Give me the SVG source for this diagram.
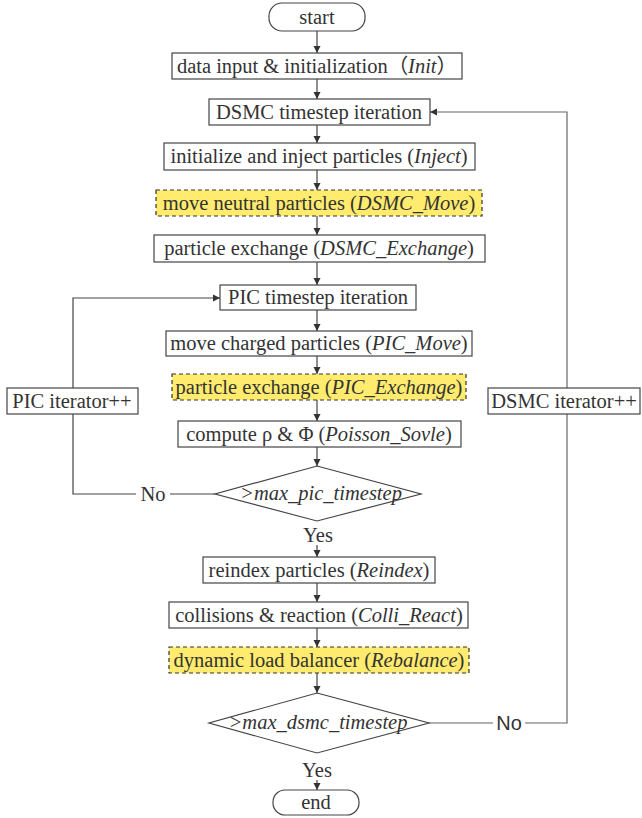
<svg xmlns="http://www.w3.org/2000/svg" width="642" height="818" viewBox="0 0 642 818">
<style>
.b{fill:#fff;stroke:#444;stroke-width:1.2}
.y{fill:#ffeb6e;stroke:#333;stroke-width:1.2;stroke-dasharray:4 3}
.t{font-family:"Liberation Serif","Noto Sans CJK SC",serif;font-size:20.5px;fill:#333;text-anchor:middle}
.s{font-family:"Liberation Sans",sans-serif;font-size:20px;fill:#333;text-anchor:middle}
.c{fill:none;stroke:#444;stroke-width:1.2}
.g{fill:none;stroke:#666;stroke-width:1.2}
</style>
<defs>
<marker id="a" markerWidth="8" markerHeight="8" refX="7" refY="4" orient="auto" markerUnits="userSpaceOnUse">
<path d="M0,0.5 L7,4 L0,7.5 Z" fill="#333"/>
</marker>
</defs>
<g id="connectors">
<path class="c" d="M317,31 V53" marker-end="url(#a)"/>
<path class="c" d="M317,79 V99" marker-end="url(#a)"/>
<path class="c" d="M317,125 V143" marker-end="url(#a)"/>
<path class="c" d="M317,170 V190" marker-end="url(#a)"/>
<path class="c" d="M317,216 V235" marker-end="url(#a)"/>
<path class="c" d="M317,262 V285" marker-end="url(#a)"/>
<path class="c" d="M317,310 V331" marker-end="url(#a)"/>
<path class="c" d="M317,356 V374" marker-end="url(#a)"/>
<path class="c" d="M317,400 V421" marker-end="url(#a)"/>
<path class="c" d="M317,447 V466" marker-end="url(#a)"/>
<path class="c" d="M317,545 V557" marker-end="url(#a)"/>
<path class="c" d="M317,583 V602" marker-end="url(#a)"/>
<path class="c" d="M317,628 V647" marker-end="url(#a)"/>
<path class="c" d="M317,673 V693" marker-end="url(#a)"/>
<path class="c" d="M317,780 V790" marker-end="url(#a)"/>
<path class="c" d="M215,494 H170 M136,494 H73 V298 H220" marker-end="url(#a)"/>
<path class="g" d="M429,723 H493 M525,723 H567 V112 H430" marker-end="url(#a)"/>
</g>
<g id="start"><rect class="b" x="269" y="3" width="96" height="28" rx="13"/><text class="t" x="317" y="24">start</text></g>
<g id="init"><rect class="b" x="172" y="53" width="290" height="26"/><text class="t" x="317" y="73" textLength="280" lengthAdjust="spacing">data input &amp; initialization（<tspan font-style="italic">Init</tspan>）</text></g>
<g id="dsmc_iter"><rect class="b" x="209" y="99" width="221" height="26"/><text class="t" x="319" y="119">DSMC timestep iteration</text></g>
<g id="inject"><rect class="b" x="164" y="143" width="311" height="27"/><text class="t" x="319" y="163">initialize and inject particles (<tspan font-style="italic">Inject</tspan>)</text></g>
<g id="dsmc_move"><rect class="y" x="156" y="190" width="326" height="26"/><text class="t" x="319" y="210">move neutral particles (<tspan font-style="italic">DSMC_Move</tspan>)</text></g>
<g id="dsmc_exchange"><rect class="b" x="154" y="235" width="331" height="27"/><text class="t" x="319" y="255">particle exchange (<tspan font-style="italic">DSMC_Exchange</tspan>)</text></g>
<g id="pic_iter"><rect class="b" x="220" y="285" width="196" height="25"/><text class="t" x="318" y="304">PIC timestep iteration</text></g>
<g id="pic_move"><rect class="b" x="166" y="331" width="306" height="25"/><text class="t" x="319" y="350">move charged particles (<tspan font-style="italic">PIC_Move</tspan>)</text></g>
<g id="pic_exchange"><rect class="y" x="172" y="374" width="294" height="26"/><text class="t" x="319" y="394">particle exchange (<tspan font-style="italic">PIC_Exchange</tspan>)</text></g>
<g id="poisson"><rect class="b" x="178" y="421" width="283" height="26"/><text class="t" x="319" y="441">compute ρ &amp; Φ (<tspan font-style="italic">Poisson_Sovle</tspan>)</text></g>
<g id="pic_check"><polygon class="b" points="317,466 421,494 317,521 215,494"/><text class="t" x="321" y="500" font-style="italic" font-size="21.5">&gt;max_pic_timestep</text></g>
<g id="pic_iter_pp"><rect class="b" x="7" y="388" width="131" height="26"/><text class="t" x="72" y="408">PIC iterator++</text></g>
<g id="no1"><text class="t" x="153" y="501">No</text></g>
<g id="yes1"><text class="t" x="318" y="542">Yes</text></g>
<g id="reindex"><rect class="b" x="203" y="557" width="232" height="26"/><text class="t" x="319" y="577">reindex particles (<tspan font-style="italic">Reindex</tspan>)</text></g>
<g id="colli"><rect class="b" x="169" y="602" width="299" height="26"/><text class="t" x="319" y="622">collisions &amp; reaction (<tspan font-style="italic">Colli_React</tspan>)</text></g>
<g id="rebalance"><rect class="y" x="169" y="647" width="300" height="26"/><text class="t" x="319" y="667">dynamic load balancer (<tspan font-style="italic">Rebalance</tspan>)</text></g>
<g id="dsmc_check"><polygon class="b" points="317,693 429,723 317,753 209,723"/><text class="t" x="318" y="729" font-style="italic" font-size="21.5">&gt;max_dsmc_timestep</text></g>
<g id="dsmc_iter_pp"><rect class="b" x="488" y="388" width="152" height="26"/><text class="t" x="564" y="408">DSMC iterator++</text></g>
<g id="no2"><text class="s" x="509" y="730">No</text></g>
<g id="yes2"><text class="t" x="317" y="777">Yes</text></g>
<g id="end"><rect class="b" x="273" y="790" width="86" height="25" rx="12"/><text class="t" x="316" y="809">end</text></g>
</svg>
